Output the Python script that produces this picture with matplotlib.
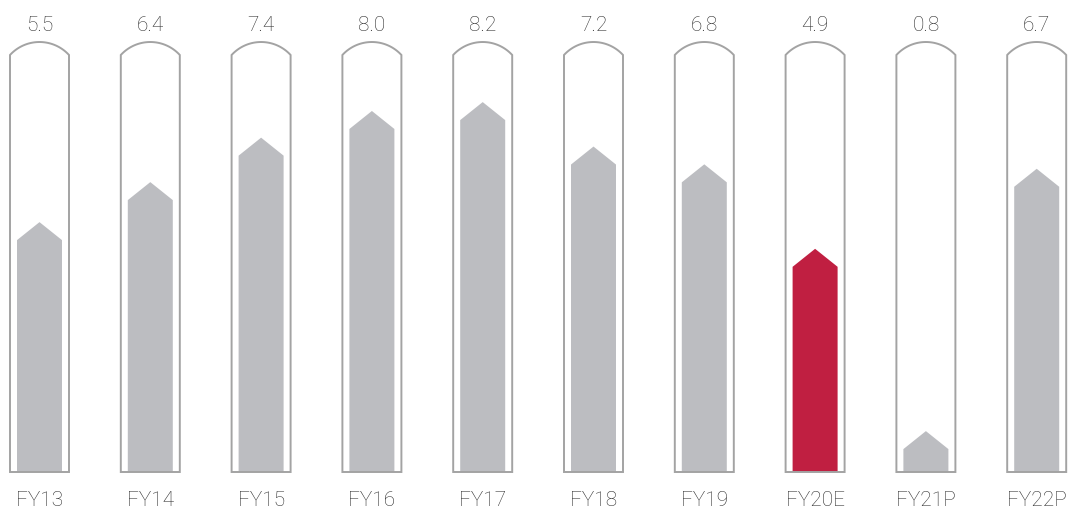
import numpy as np
import matplotlib
matplotlib.use("Agg")
from matplotlib import pyplot as plt
from matplotlib.patches import Polygon

categories = ["FY13", "FY14", "FY15", "FY16", "FY17", "FY18", "FY19", "FY20E", "FY21P", "FY22P"]
values = [5.5, 6.4, 7.4, 8.0, 8.2, 7.2, 6.8, 4.9, 0.8, 6.7]
highlight = "FY20E"

GREY = "#bcbdc1"
RED = "#c01f41"
EDGE = "#a3a3a3"
TEXT = "#2e2e2e"

PX_X = 110.8   # pixels per category
PX_Y = 44.46   # pixels per unit


def main():
    fig = plt.figure(figsize=(10.73, 5.08), dpi=100)
    ax = fig.add_axes([0, 0, 1, 1])
    ax.set_xlim(-39.5 / PX_X, (1073 - 39.5) / PX_X)
    ax.set_ylim(-36 / PX_Y, 472 / PX_Y)
    ax.axis("off")

    tube_half = 29.5 / PX_X
    side_top = 417 / PX_Y
    bar_half = 22.5 / PX_X
    arrow = 18 / PX_Y

    # arc of the tube top (circle radius ~40 px, sag 13 px)
    R = 40.0
    xs_px = np.linspace(-29.5, 29.5, 60)
    ys_px = np.sqrt(R ** 2 - xs_px ** 2) - np.sqrt(R ** 2 - 29.5 ** 2)

    for i, (cat, v) in enumerate(zip(categories, values)):
        # tube outline
        pts = [(i - tube_half, side_top), (i - tube_half, 0), (i + tube_half, 0), (i + tube_half, side_top)]
        arc = [(i + x / PX_X, side_top + y / PX_Y) for x, y in zip(xs_px[::-1], ys_px[::-1])]
        ax.add_patch(Polygon(pts + arc, closed=True, fill=False, edgecolor=EDGE, lw=1.4, zorder=3))

        # arrow bar
        tip = v + 0.12
        sh = tip - arrow
        color = RED if cat == highlight else GREY
        bar = [(i - bar_half, 0), (i - bar_half, sh), (i, tip), (i + bar_half, sh), (i + bar_half, 0)]
        ax.add_patch(Polygon(bar, closed=True, facecolor=color, edgecolor="none", zorder=2))

        ax.text(i, 446.5 / PX_Y, f"{v:.1f}", ha="center", va="center", fontsize=15,
                family="Roboto", fontweight="light", color=TEXT)
        ax.text(i, -28 / PX_Y, cat, ha="center", va="center", fontsize=15,
                family="Roboto", fontweight="light", color=TEXT)

    plt.savefig("out.png", dpi=100)


if __name__ == '__main__':
    main()
